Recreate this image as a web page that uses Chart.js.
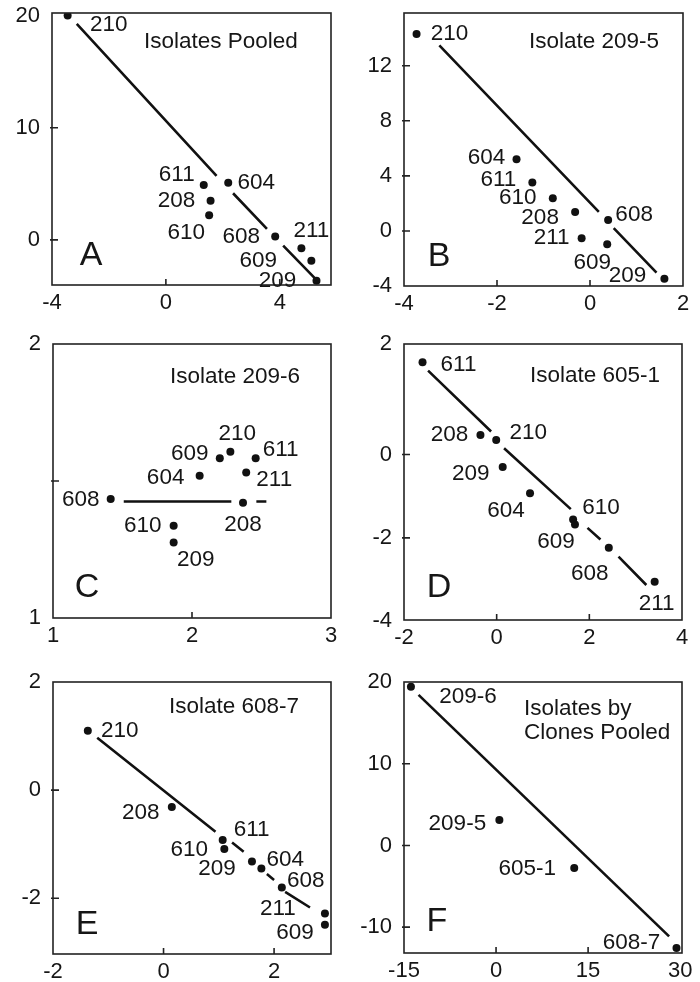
<!DOCTYPE html>
<html>
<head>
<meta charset="utf-8">
<script src="https://cdn.jsdelivr.net/npm/chart.js@4.4.0/dist/chart.umd.min.js"></script>
<style>
  html, body { margin:0; padding:0; background:#fff; }
  #page { position:relative; width:700px; height:982px; overflow:hidden; background:#fff; }
  .panel { position:absolute; }
</style>
</head>
<body>
<div id="page"></div>
<script>
// ---- values ----
// A: Isolates Pooled
const namesA = ['210','611','604','208','610','608','211','609','209'];
const xA = [-3.45, 1.33, 2.19, 1.57, 1.52, 3.84, 4.76, 5.11, 5.29];
const yA = [20.0, 4.9, 5.1, 3.5, 2.2, 0.3, -0.74, -1.85, -3.63];
const segXA = [[-3.13, 1.78], [2.36, 3.55], [4.12, 5.29]];
const segYA = [[19.25, 5.70], [4.16, 0.98], [-0.51, -3.57]];
const xTicksA = [-4, 0, 4], yTicksA = [0, 10, 20];

// B: Isolate 209-5
const namesB = ['210','604','611','610','208','608','211','609','209'];
const xB = [-3.73, -1.58, -1.24, -0.80, -0.32, 0.39, -0.18, 0.37, 1.60];
const yB = [14.3, 5.21, 3.51, 2.38, 1.38, 0.80, -0.53, -0.97, -3.47];
const segXB = [[-3.24, 0.19], [0.51, 1.43]];
const segYB = [[13.48, 1.38], [0.2, -3.03]];
const xTicksB = [-4, -2, 0, 2], yTicksB = [-4, 0, 4, 8, 12];

// C: Isolate 209-6
const namesC = ['608','604','609','210','611','211','208','610','209'];
const xC = [1.415, 2.055, 2.20, 2.276, 2.458, 2.39, 2.367, 1.868, 1.868];
const yC = [1.434, 1.519, 1.583, 1.607, 1.583, 1.531, 1.421, 1.337, 1.276];
const segXC = [[1.509, 2.283], [2.463, 2.535]];
const segYC = [[1.425, 1.425], [1.425, 1.425]];
const xTicksC = [1, 2, 3], yTicksC = [1, 1.5, 2];
const yTextC = ['1', '', '2'];

// D: Isolate 605-1 (top label "2" sits at the top edge in the original)
const namesD = ['611','208','210','209','604','610','609','608','211'];
const xD = [-1.60, -0.35, -0.01, 0.13, 0.72, 1.65, 1.69, 2.42, 3.41];
const yD = [2.21, 0.47, 0.35, -0.30, -0.93, -1.56, -1.68, -2.24, -3.05];
const segXD = [[-1.48, -0.12], [0.16, 1.60], [1.96, 2.24], [2.63, 3.23]];
const segYD = [[2.01, 0.55], [0.15, -1.31], [-1.76, -2.04], [-2.45, -3.13]];
const xTicksD = [-2, 0, 2, 4], yTicksD = [-4, -2, 0, 2.65];
const yTextD = ['-4', '-2', '0', '2'];

// E: Isolate 608-7
const namesE = ['210','208','611','610','209','604','608','211','609'];
const xE = [-1.37, 0.15, 1.07, 1.10, 1.60, 1.77, 2.14, 2.92, 2.92];
const yE = [1.10, -0.31, -0.92, -1.09, -1.32, -1.45, -1.80, -2.28, -2.49];
const segXE = [[-1.20, 0.94], [1.24, 1.45], [1.87, 2.00], [2.20, 2.65]];
const segYE = [[0.97, -0.77], [-0.97, -1.14], [-1.55, -1.66], [-1.88, -2.17]];
const xTicksE = [-2, 0, 2], yTicksE = [-2, 0, 2];

// F: Isolates by Clones Pooled
const namesF = ['209-6','209-5','605-1','608-7'];
const xF = [-13.87, 0.54, 12.74, 29.4];
const yF = [19.43, 3.12, -2.75, -12.55];
const segXF = [[-12.63, 28.2]];
const segYF = [[18.42, -11.13]];
const xTicksF = [-15, 0, 15, 30], yTicksF = [-10, 0, 10, 20];

// ---- layout (pixels) ----
const FONT = '"Liberation Sans", Arial, Helvetica, sans-serif';
const INK = '#161616';

const panels = [
  { box:[52,331,13,285], xr:[-4,5.8], yr:[-4.02,20.23], names:namesA, xs:xA, ys:yA, sx:segXA, sy:segYA, xt:xTicksA, yt:yTicksA,
    offs:[[41,9],[-27,-10],[28,0],[-34,0],[-23,18],[-34,0],[10,-17],[-53,0],[-39,0]],
    title:['Isolates Pooled'], titlePos:[92,29], letter:'A', letterPos:[39,243] },
  { box:[404,683,13,286], xr:[-4,2], yr:[-4,15.83], names:namesB, xs:xB, ys:yB, sx:segXB, sy:segYB, xt:xTicksB, yt:yTicksB,
    offs:[[33,0],[-30,-1],[-34,-3],[-35,0],[-35,6],[26,-5],[-30,0],[-15,19],[-37,-3]],
    title:['Isolate 209-5'], titlePos:[125,29], letter:'B', letterPos:[35,244] },
  { box:[53,331,344,618], xr:[1,3], yr:[1,2], names:namesC, xs:xC, ys:yC, sx:segXC, sy:segYC, xt:xTicksC, yt:yTicksC, yText:yTextC,
    offs:[[-30,1],[-34,2],[-30,-4],[7,-18],[25,-8],[28,7],[0,22],[-31,0],[22,17]],
    title:['Isolate 209-6'], titlePos:[117,33], letter:'C', letterPos:[34,244] },
  { box:[404,682,344,620], xr:[-2,4], yr:[-3.97,2.65], names:namesD, xs:xD, ys:yD, sx:segXD, sy:segYD, xt:xTicksD, yt:yTicksD, yText:yTextD,
    offs:[[36,2],[-31,0],[32,-7],[-32,7],[-24,18],[28,-12],[-19,17],[-19,26],[2,22]],
    title:['Isolate 605-1'], titlePos:[126,32], letter:'D', letterPos:[35,244] },
  { box:[53,331,682,954], xr:[-2,3.03], yr:[-3.03,2], names:namesE, xs:xE, ys:yE, sx:segXE, sy:segYE, xt:xTicksE, yt:yTicksE,
    offs:[[32,0],[-31,6],[29,-10],[-35,1],[-35,7],[24,-9],[24,-7],[-47,-5],[-30,8]],
    title:['Isolate 608-7'], titlePos:[116,25], letter:'E', letterPos:[34,243] },
  { box:[404,682,682,953], xr:[-15,30.3], yr:[-13.16,20], names:namesF, xs:xF, ys:yF, sx:segXF, sy:segYF, xt:xTicksF, yt:yTicksF,
    offs:[[57,10],[-42,4],[-47,1],[-45,-5]],
    title:['Isolates by','Clones Pooled'], titlePos:[120,27], letter:'F', letterPos:[33,240] }
];

const PAD_L = 52, PAD_T = 12, PAD_R = 20, PAD_B = 38;

function decor(p) {
  return {
    id: 'decor',
    afterDraw(chart) {
      const { ctx, chartArea: a, scales } = chart;
      ctx.save();
      ctx.strokeStyle = '#222';
      ctx.lineWidth = 1.6;
      ctx.strokeRect(a.left, a.top, a.right - a.left, a.bottom - a.top);
      // inward tick marks
      ctx.beginPath();
      scales.x.ticks.forEach(t => {
        const px = scales.x.getPixelForValue(t.value);
        if (px > a.left + 3 && px < a.right - 3) { ctx.moveTo(px, a.bottom); ctx.lineTo(px, a.bottom - 6); }
      });
      scales.y.ticks.forEach(t => {
        const py = scales.y.getPixelForValue(t.value);
        if (py > a.top + 3 && py < a.bottom - 3) { ctx.moveTo(a.left - 2, py); ctx.lineTo(a.left + 6, py); }
      });
      ctx.stroke();
      // point labels
      ctx.fillStyle = INK;
      ctx.textAlign = 'center';
      ctx.textBaseline = 'middle';
      ctx.font = '22.5px ' + FONT;
      chart.getDatasetMeta(1).data.forEach((el, i) => {
        const [dx, dy] = p.offs[i];
        ctx.fillText(p.names[i], el.x + dx, el.y + dy);
      });
      // panel title
      ctx.textAlign = 'left';
      p.title.forEach((s, i) => ctx.fillText(s, a.left + p.titlePos[0], a.top + p.titlePos[1] + i * 23.5));
      // panel letter
      ctx.textAlign = 'center';
      ctx.font = '34px ' + FONT;
      ctx.fillText(p.letter, a.left + p.letterPos[0], a.top + p.letterPos[1]);
      ctx.restore();
    }
  };
}

function segData(sx, sy) {
  const out = [];
  sx.forEach((s, i) => {
    if (i > 0) out.push({ x: s[0], y: null });
    out.push({ x: s[0], y: sy[i][0] }, { x: s[1], y: sy[i][1] });
  });
  return out;
}

const page = document.getElementById('page');
panels.forEach(p => {
  const W = PAD_L + (p.box[1] - p.box[0]) + PAD_R;
  const H = PAD_T + (p.box[3] - p.box[2]) + PAD_B;
  const div = document.createElement('div');
  div.className = 'panel';
  div.style.left = (p.box[0] - PAD_L) + 'px';
  div.style.top = (p.box[2] - PAD_T) + 'px';
  const cv = document.createElement('canvas');
  cv.width = W; cv.height = H;
  cv.style.width = W + 'px'; cv.style.height = H + 'px';
  div.appendChild(cv);
  page.appendChild(div);

  const tickFont = { family: FONT, size: 22 };
  new Chart(cv, {
    type: 'scatter',
    data: {
      datasets: [
        { type: 'line', data: segData(p.sx, p.sy), borderColor: '#111', borderWidth: 2.6,
          pointRadius: 0, spanGaps: false, fill: false, tension: 0 },
        { type: 'scatter', data: p.xs.map((x, i) => ({ x, y: p.ys[i] })),
          pointRadius: 4, pointBackgroundColor: '#111', pointBorderWidth: 0 }
      ]
    },
    options: {
      responsive: false,
      animation: false,
      layout: { padding: { left: 0, top: PAD_T, right: PAD_R, bottom: 0 } },
      plugins: { legend: { display: false }, tooltip: { enabled: false } },
      scales: {
        x: {
          type: 'linear', min: p.xr[0], max: p.xr[1],
          grid: { display: false, drawTicks: false }, border: { display: false },
          ticks: { font: tickFont, color: INK, padding: 5, maxRotation: 0, autoSkip: false,
                   callback: v => String(v) },
          afterBuildTicks: s => { s.ticks = p.xt.map(v => ({ value: v })); },
          afterFit: s => { s.height = PAD_B; s.paddingLeft = 0; s.paddingRight = 0; }
        },
        y: {
          type: 'linear', min: p.yr[0], max: p.yr[1],
          grid: { display: false, drawTicks: false }, border: { display: false },
          ticks: { font: tickFont, color: INK, padding: 12, autoSkip: false,
                   callback: (v, i) => p.yText ? p.yText[i] : String(v) },
          afterBuildTicks: s => { s.ticks = p.yt.map(v => ({ value: v })); },
          afterFit: s => { s.width = PAD_L; s.paddingTop = 0; s.paddingBottom = 0; }
        }
      }
    },
    plugins: [decor(p)]
  });
});
</script>
</body>
</html>
